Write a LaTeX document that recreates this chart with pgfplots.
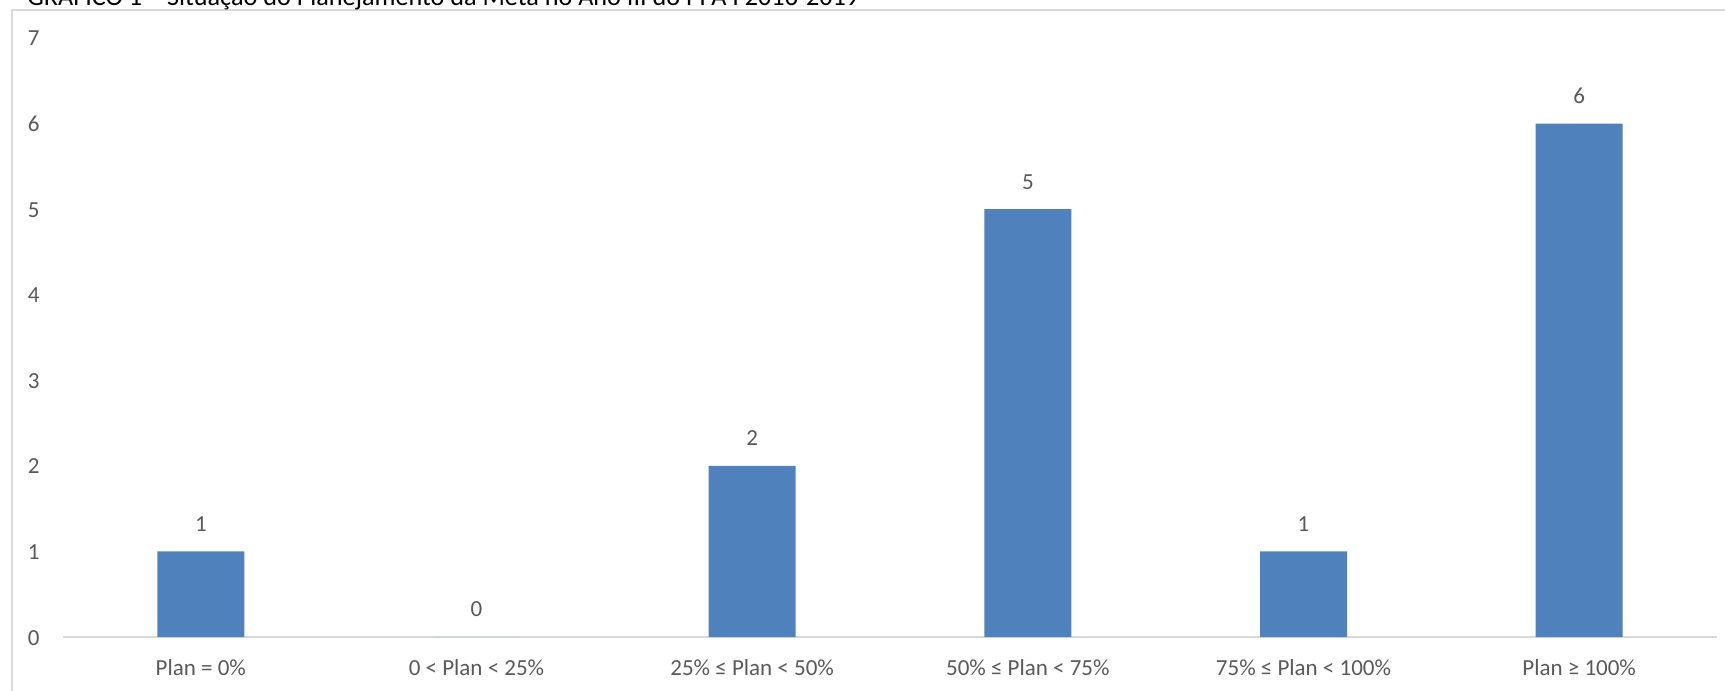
\documentclass[border=0pt]{standalone}
\usepackage{pgfplots}
\pgfplotsset{compat=1.18}
\usepackage{fontspec}
\setmainfont{Carlito}
\definecolor{barblue}{HTML}{4F81BD}
\definecolor{txtgray}{HTML}{595959}
\definecolor{linegray}{HTML}{D9D9D9}
\begin{document}
\begin{tikzpicture}
\useasboundingbox (-31.5pt,-27pt) rectangle (831pt,318.5pt);
\draw[linegray, line width=0.7pt] (-25.5pt,-40pt) |- (845pt,313.5pt);
\node[anchor=base west, inner sep=0pt, font=\fontsize{13.1pt}{15pt}\selectfont] at (-18pt,315.5pt)
  {GRÁFICO 1 – Situação do Planejamento da Meta no Ano III do PPA I 2016-2019};
\begin{axis}[
  at={(0,0)}, anchor=south west,
  scale only axis, width=827pt, height=299.5pt,
  xmin=-0.5, xmax=5.5, ymin=0, ymax=7,
  xtick=data,
  xticklabels={Plan = 0\%, 0 < Plan < 25\%, 25\% ≤ Plan < 50\%, 50\% ≤ Plan < 75\%, 75\% ≤ Plan < 100\%, Plan ≥ 100\%},
  ytick={0,1,2,3,4,5,6,7},
  axis x line*=bottom, axis y line*=left,
  x axis line style={draw=linegray, line width=0.8pt, -},
  y axis line style={draw=none},
  major tick length=0pt,
  /pgf/number format/assume math mode=true,
  ticklabel style={font=\fontsize{11.5pt}{13pt}\selectfont, text=txtgray},
  xticklabel style={anchor=base, inner sep=0pt, yshift=-19.5pt},
  yticklabel style={anchor=base east, inner sep=0pt, xshift=-11.5pt, yshift=-4pt},
  ybar, bar width=43.5pt,
  nodes near coords,
  nodes near coords style={anchor=base, inner sep=0pt, yshift=10pt, font=\fontsize{11.5pt}{13pt}\selectfont, text=txtgray},
]
\addplot[fill=barblue, draw=none] coordinates {(0,1) (1,0) (2,2) (3,5) (4,1) (5,6)};
\end{axis}
\end{tikzpicture}
\end{document}
